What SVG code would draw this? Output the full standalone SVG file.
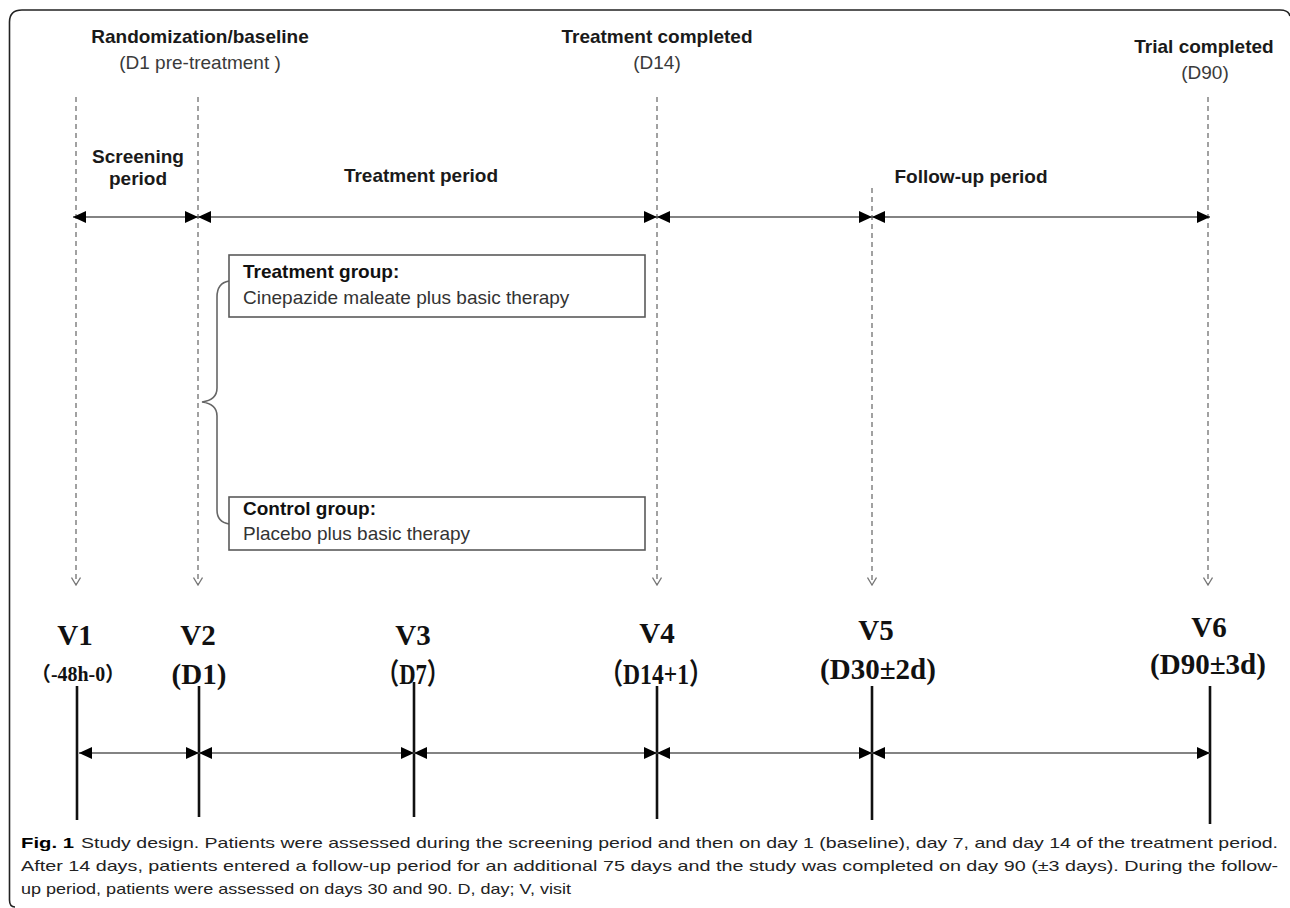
<svg xmlns="http://www.w3.org/2000/svg" width="1290" height="908" viewBox="0 0 1290 908">
<style>
.hb{font-family:"Liberation Sans",Arial,sans-serif;font-weight:bold;font-size:19px;fill:#1a1a1a}
.hr{font-family:"Liberation Sans",Arial,sans-serif;font-size:19px;fill:#3a3a3a}
.bb{font-family:"Liberation Sans",Arial,sans-serif;font-weight:bold;font-size:19px;fill:#111}
.br{font-family:"Liberation Sans",Arial,sans-serif;font-size:19px;fill:#333}
.v{font-family:"Liberation Serif","Times New Roman","Noto Sans CJK SC",serif;font-weight:bold;font-size:29px;fill:#111}
.cap{font-family:"Liberation Sans",Arial,sans-serif;font-size:15px;fill:#222}
.dash{stroke:#8a8a8a;stroke-width:1.6;stroke-dasharray:5 4;fill:none}
.span{stroke:#5a5a5a;stroke-width:1.6;fill:none}
.tick{stroke:#111;stroke-width:2.6}
.box{fill:#fff;stroke:#5a5a5a;stroke-width:1.6}
</style>
<defs>
<marker id="ah" viewBox="0 0 13 12" refX="13" refY="6" markerWidth="13" markerHeight="12" markerUnits="userSpaceOnUse" orient="auto-start-reverse">
<path d="M0,0 L13,6 L0,12 z" fill="#000"/>
</marker>
<marker id="chev" viewBox="0 0 9 10" refX="8" refY="5" markerWidth="9" markerHeight="10" markerUnits="userSpaceOnUse" orient="auto">
<path d="M0.5,0.5 L8,5 L0.5,9.5" fill="none" stroke="#777" stroke-width="1.3"/>
</marker>
</defs>
<rect x="0" y="0" width="1290" height="908" fill="#fff"/>
<path id="frame" d="M 15 907 Q 9.5 907 9.5 900 L 9.5 22 Q 9.5 10 22 10 L 1280 10 Q 1288.5 10 1290 16" fill="none" stroke="#222" stroke-width="1.6"/>

<g id="connectors">
<line class="dash" x1="76" y1="97" x2="76" y2="585" marker-end="url(#chev)"/>
<line class="dash" x1="198" y1="97" x2="198" y2="585" marker-end="url(#chev)"/>
<line class="dash" x1="657" y1="97" x2="657" y2="585" marker-end="url(#chev)"/>
<line class="dash" x1="872" y1="188" x2="872" y2="585" marker-end="url(#chev)"/>
<line class="dash" x1="1208" y1="97" x2="1208" y2="585" marker-end="url(#chev)"/>
<line class="span" x1="73" y1="217" x2="198" y2="217" marker-start="url(#ah)" marker-end="url(#ah)"/>
<line class="span" x1="198" y1="217" x2="657" y2="217" marker-start="url(#ah)" marker-end="url(#ah)"/>
<line class="span" x1="657" y1="217" x2="872" y2="217" marker-start="url(#ah)" marker-end="url(#ah)"/>
<line class="span" x1="872" y1="217" x2="1210" y2="217" marker-start="url(#ah)" marker-end="url(#ah)"/>
<path id="brace" d="M 229 281 Q 217 283 217 297 L 217 388 Q 217 400 202 402 Q 217 404 217 416 L 217 510 Q 217 522 229 524" fill="none" stroke="#666" stroke-width="1.6"/>
<line class="tick" x1="77" y1="686" x2="77" y2="820"/>
<line class="tick" x1="199" y1="686" x2="199" y2="817"/>
<line class="tick" x1="414" y1="682" x2="414" y2="817"/>
<line class="tick" x1="657" y1="686" x2="657" y2="819"/>
<line class="tick" x1="872" y1="686" x2="872" y2="820"/>
<line class="tick" x1="1210" y1="686" x2="1210" y2="824"/>
<line class="span" x1="79" y1="753" x2="199" y2="753" marker-start="url(#ah)" marker-end="url(#ah)"/>
<line class="span" x1="199" y1="753" x2="414" y2="753" marker-start="url(#ah)" marker-end="url(#ah)"/>
<line class="span" x1="414" y1="753" x2="657" y2="753" marker-start="url(#ah)" marker-end="url(#ah)"/>
<line class="span" x1="657" y1="753" x2="872" y2="753" marker-start="url(#ah)" marker-end="url(#ah)"/>
<line class="span" x1="872" y1="753" x2="1210" y2="753" marker-start="url(#ah)" marker-end="url(#ah)"/>
</g>

<g id="label-randomization">
<text class="hb" x="200" y="43" text-anchor="middle">Randomization/baseline</text>
<text class="hr" x="200" y="69" text-anchor="middle">(D1 pre-treatment )</text>
</g>
<g id="label-treatment-completed">
<text class="hb" x="657" y="43" text-anchor="middle">Treatment completed</text>
<text class="hr" x="657" y="69" text-anchor="middle">(D14)</text>
</g>
<g id="label-trial-completed">
<text class="hb" x="1204" y="53" text-anchor="middle">Trial completed</text>
<text class="hr" x="1205" y="79" text-anchor="middle">(D90)</text>
</g>
<g id="label-screening">
<text class="hb" x="138" y="163" text-anchor="middle">Screening</text>
<text class="hb" x="138" y="185" text-anchor="middle">period</text>
</g>
<g id="label-treatment-period">
<text class="hb" x="421" y="182" text-anchor="middle">Treatment period</text>
</g>
<g id="label-followup">
<text class="hb" x="971" y="183" text-anchor="middle">Follow-up period</text>
</g>

<g id="treatment-group">
<rect class="box" x="229" y="255" width="416" height="62"/>
<text class="bb" x="243" y="278">Treatment group:</text>
<text class="br" x="243" y="304">Cinepazide maleate plus basic therapy</text>
</g>
<g id="control-group">
<rect class="box" x="229" y="497" width="416" height="53"/>
<text class="bb" x="243" y="515">Control group:</text>
<text class="br" x="243" y="540">Placebo plus basic therapy</text>
</g>

<g id="visit-v1">
<text class="v" x="75" y="645" text-anchor="middle">V1</text>
<text class="v" x="78" y="681" text-anchor="middle" style="font-size:20px" textLength="94" lengthAdjust="spacingAndGlyphs">（-48h-0）</text>
</g>
<g id="visit-v2">
<text class="v" x="198" y="645" text-anchor="middle">V2</text>
<text class="v" x="199" y="684" text-anchor="middle">(D1)</text>
</g>
<g id="visit-v3">
<text class="v" x="413" y="645" text-anchor="middle">V3</text>
<text class="v" x="413" y="684" text-anchor="middle" textLength="73" lengthAdjust="spacingAndGlyphs">（D7）</text>
</g>
<g id="visit-v4">
<text class="v" x="657" y="643" text-anchor="middle">V4</text>
<text class="v" x="656" y="684" text-anchor="middle" textLength="113" lengthAdjust="spacingAndGlyphs">（D14+1）</text>
</g>
<g id="visit-v5">
<text class="v" x="876" y="640" text-anchor="middle">V5</text>
<text class="v" x="878" y="679" text-anchor="middle">(D30±2d)</text>
</g>
<g id="visit-v6">
<text class="v" x="1209" y="637" text-anchor="middle">V6</text>
<text class="v" x="1208" y="674" text-anchor="middle">(D90±3d)</text>
</g>

<g id="caption">
<text class="cap" x="21" y="848" style="font-weight:bold;fill:#000" textLength="53" lengthAdjust="spacingAndGlyphs">Fig. 1</text>
<text class="cap" x="81" y="848" textLength="1197" lengthAdjust="spacingAndGlyphs">Study design. Patients were assessed during the screening period and then on day 1 (baseline), day 7, and day 14 of the treatment period.</text>
<text class="cap" x="21" y="871" textLength="1257" lengthAdjust="spacingAndGlyphs">After 14 days, patients entered a follow-up period for an additional 75 days and the study was completed on day 90 (±3 days). During the follow-</text>
<text class="cap" x="21" y="894" textLength="550" lengthAdjust="spacingAndGlyphs">up period, patients were assessed on days 30 and 90. D, day; V, visit</text>
</g>
</svg>
